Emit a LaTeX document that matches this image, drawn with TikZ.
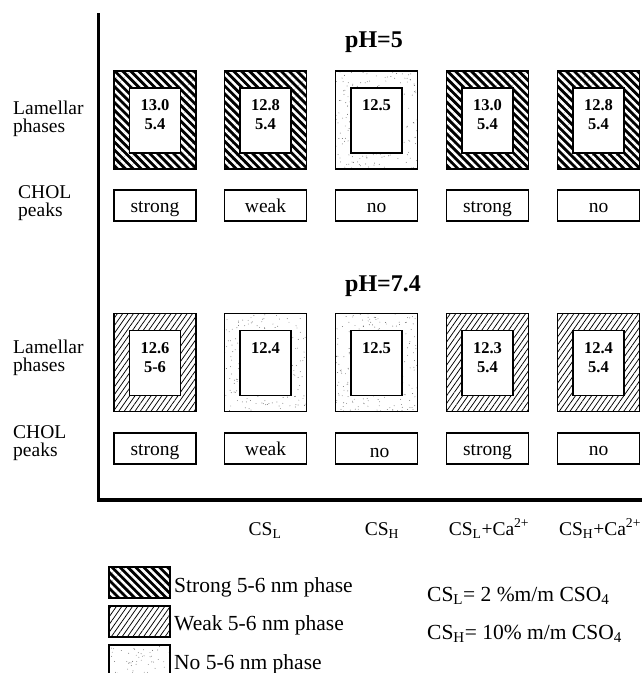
\documentclass[tikz,border=0pt]{standalone}
\usepackage{fontspec}
\setmainfont{Liberation Serif}
\usetikzlibrary{patterns.meta}
\begin{document}
\pgfmathsetseed{7}
\begin{tikzpicture}[x=1pt,y=-1pt,
  frame/.style={rectangle, draw, line width=1.2pt, inner sep=0pt,
    minimum width=82pt, minimum height=98pt},
  strongfill/.style={preaction={fill=black},
    pattern={Lines[angle=-45,distance=5.6pt,line width=2.5pt]}, pattern color=white},
  weakfill/.style={pattern={Lines[angle=55,distance=4.4pt,line width=0.75pt]}, pattern color=black},
  nofill/.style={path picture={
    \foreach \k in {1,...,260}
      \fill[black!60] ([shift={(rnd*90pt,rnd*100pt)}]path picture bounding box.south west) circle[radius=0.45pt];}},
  innerbox/.style={rectangle, draw, fill=white, line width=1.5pt, inner sep=0pt,
    minimum width=51pt, minimum height=65pt},
  num/.style={font=\fontsize{16.5}{19}\selectfont\bfseries, inner sep=0pt},
  cholbox/.style={rectangle, draw, line width=1.2pt, inner sep=0pt,
    minimum width=82pt, minimum height=31pt, text height=14pt, text depth=0pt,
    font=\fontsize{19.5}{22}\selectfont},
  lab/.style={font=\fontsize{19.5}{22}\selectfont, inner sep=0pt, anchor=base west},
  collab/.style={font=\fontsize{19.5}{22}\selectfont, inner sep=0pt, anchor=base},
  leg/.style={font=\fontsize{21.5}{24}\selectfont, inner sep=0pt, anchor=base west},
  phlab/.style={font=\fontsize{24}{28}\selectfont\bfseries, inner sep=0pt, anchor=base west},
  swatch/.style={rectangle, draw, line width=1.2pt, inner sep=0pt,
    minimum width=61pt, minimum height=31pt}
]
\useasboundingbox (0,0) rectangle (642,673);
\clip (0,0) rectangle (642,673);

% axes
\coordinate (axtop) at (98.5,13);
\coordinate (axcorner) at (98.5,500);
\coordinate (axright) at (643,500);
\draw[line width=3.2pt] (axtop) -- (axcorner) -- (axright);

% titles
\node[phlab] (ph5) at (345,47) {pH=5};
\node[phlab] (ph74) at (345,291) {pH=7.4};

% left labels
\node[lab] (lam1a) at (13,114) {Lamellar};
\node[lab] (lam1b) at (13,132.5) {phases};
\node[lab] (chol1a) at (18,198) {CHOL};
\node[lab] (chol1b) at (18,216) {peaks};
\node[lab] (lam2a) at (13,353) {Lamellar};
\node[lab] (lam2b) at (13,371.5) {phases};
\node[lab] (chol2a) at (13,438) {CHOL};
\node[lab] (chol2b) at (13,456) {peaks};

% row pH=5
\node[frame,strongfill] (f11) at (155,120) {};
\node[frame,strongfill] (f12) at (265.5,120) {};
\node[frame,nofill] (f13) at (376.5,120) {};
\node[frame,strongfill] (f14) at (487.5,120) {};
\node[frame,strongfill] (f15) at (598.5,120) {};
\foreach \c/\x in {1/155,2/265.5,3/376.5,4/487.5,5/598.5}
  \node[innerbox] (i1\c) at (\x,120.5) {};
\node[num] (a11) at (155,105) {13.0};
\node[num] (b11) at (155,124) {5.4};
\node[num] (a12) at (265.5,105) {12.8};
\node[num] (b12) at (265.5,124) {5.4};
\node[num] (a13) at (376.5,105) {12.5};
\node[num] (a14) at (487.5,105) {13.0};
\node[num] (b14) at (487.5,124) {5.4};
\node[num] (a15) at (598.5,105) {12.8};
\node[num] (b15) at (598.5,124) {5.4};

\node[cholbox] (c11) at (155,205.5) {strong};
\node[cholbox] (c12) at (265.5,205.5) {weak};
\node[cholbox] (c13) at (376.5,205.5) {no};
\node[cholbox] (c14) at (487.5,205.5) {strong};
\node[cholbox] (c15) at (598.5,205.5) {no};

% row pH=7.4
\node[frame,weakfill] (f21) at (155,362.5) {};
\node[frame,nofill] (f22) at (265.5,362.5) {};
\node[frame,nofill] (f23) at (376.5,362.5) {};
\node[frame,weakfill] (f24) at (487.5,362.5) {};
\node[frame,weakfill] (f25) at (598.5,362.5) {};
\foreach \c/\x in {1/155,2/265.5,3/376.5,4/487.5,5/598.5}
  \node[innerbox] (i2\c) at (\x,363) {};
\node[num] (a21) at (155,348) {12.6};
\node[num] (b21) at (155,367) {5-6};
\node[num] (a22) at (265.5,348) {12.4};
\node[num] (a23) at (376.5,348) {12.5};
\node[num] (a24) at (487.5,348) {12.3};
\node[num] (b24) at (487.5,367) {5.4};
\node[num] (a25) at (598.5,348) {12.4};
\node[num] (b25) at (598.5,367) {5.4};

\node[cholbox] (c21) at (155,448.5) {strong};
\node[cholbox] (c22) at (265.5,448.5) {weak};
\node[cholbox] (c23) at (376.5,448.5) {\raisebox{-2pt}{\hspace{6pt}no}};
\node[cholbox] (c24) at (487.5,448.5) {strong};
\node[cholbox] (c25) at (598.5,448.5) {no};

% column labels
\node[collab] (cl2) at (265,535) {CS\textsubscript{L}};
\node[collab] (cl3) at (382,535) {CS\textsubscript{H}};
\node[collab] (cl4) at (489,535) {CS\textsubscript{L}+Ca\textsuperscript{2+}};
\node[collab] (cl5) at (600,535) {CS\textsubscript{H}+Ca\textsuperscript{2+}};

% legend
\node[swatch,strongfill] (s1) at (139.5,582.5) {};
\node[swatch,weakfill] (s2) at (139.5,621.5) {};
\node[swatch,nofill] (s3) at (139.5,660.5) {};
\node[leg] (l1) at (174,592) {Strong 5-6 nm phase};
\node[leg] (l2) at (174,630) {Weak 5-6 nm phase};
\node[leg] (l3) at (174,669) {No 5-6 nm phase};

\node[leg] (d1) at (427,601) {CS\textsubscript{L}= 2 \%m/m CSO\textsubscript{4}};
\node[leg] (d2) at (427,639) {CS\textsubscript{H}= 10\% m/m CSO\textsubscript{4}};
\end{tikzpicture}
\end{document}
